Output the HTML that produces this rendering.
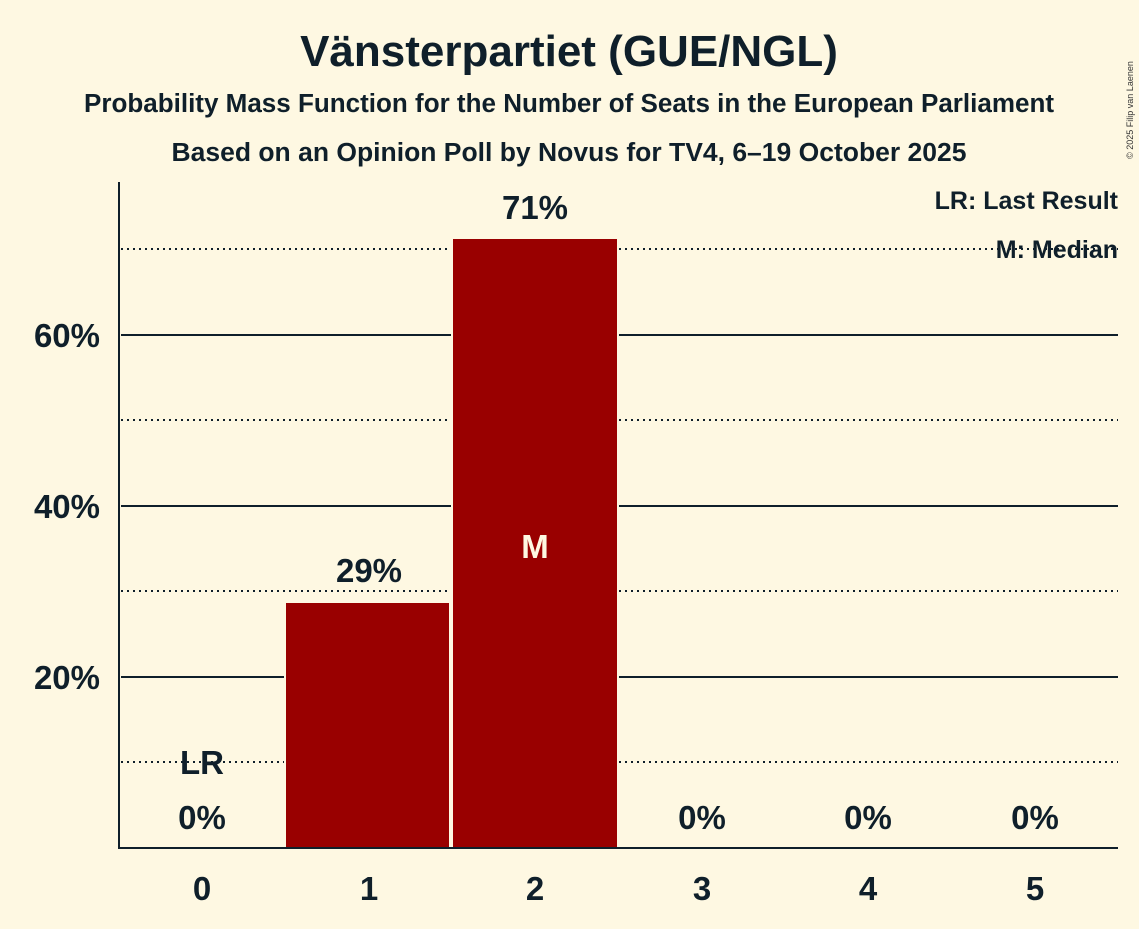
<!DOCTYPE html>
<html><head><style>body{margin:0;background:#fef8e2}</style></head><body>
<svg width="1139" height="924" xmlns="http://www.w3.org/2000/svg" font-family="Liberation Sans, sans-serif" font-weight="bold">
<rect width="1139" height="924" fill="#fef8e2"/>
<text x="569" y="66" font-size="44" text-anchor="middle" fill="#0f1f2a">Vänsterpartiet (GUE/NGL)</text>
<text x="569" y="112" font-size="25.5" text-anchor="middle" fill="#0f1f2a" textLength="970" lengthAdjust="spacingAndGlyphs">Probability Mass Function for the Number of Seats in the European Parliament</text>
<text x="569" y="161" font-size="25.5" text-anchor="middle" fill="#0f1f2a" textLength="795" lengthAdjust="spacingAndGlyphs">Based on an Opinion Poll by Novus for TV4, 6–19 October 2025</text>
<text x="1133" y="110" font-size="9" font-weight="normal" fill="#333" transform="rotate(-90 1133 110)" text-anchor="middle">© 2025 Filip van Laenen</text>
<g stroke="#0f1f2a" stroke-width="2" stroke-dasharray="2 4">
<line x1="121" x2="1118" y1="762" y2="762"/><line x1="121" x2="1118" y1="591" y2="591"/>
<line x1="121" x2="1118" y1="420" y2="420"/><line x1="121" x2="1118" y1="249" y2="249"/>
</g>
<g stroke="#0f1f2a" stroke-width="2">
<line x1="121" x2="1118" y1="677" y2="677"/><line x1="121" x2="1118" y1="506" y2="506"/><line x1="121" x2="1118" y1="335" y2="335"/>
</g>
<rect x="284" y="601" width="167" height="248" fill="#fef8e2"/>
<rect x="451" y="237" width="168" height="612" fill="#fef8e2"/>
<rect x="286" y="603" width="163" height="245" fill="#990000"/>
<rect x="453" y="239" width="164" height="609" fill="#990000"/>
<line x1="119" x2="119" y1="182" y2="849" stroke="#0f1f2a" stroke-width="2"/>
<line x1="118" x2="1118" y1="848" y2="848" stroke="#0f1f2a" stroke-width="2"/>
<g font-size="33" fill="#0f1f2a" text-anchor="end">
<text x="100" y="689">20%</text><text x="100" y="518">40%</text><text x="100" y="347">60%</text>
</g>
<g font-size="33" fill="#0f1f2a" text-anchor="middle">
<text x="202" y="900">0</text><text x="369" y="900">1</text><text x="535" y="900">2</text>
<text x="702" y="900">3</text><text x="868" y="900">4</text><text x="1035" y="900">5</text>
<text x="202" y="829">0%</text><text x="702" y="829">0%</text><text x="868" y="829">0%</text><text x="1035" y="829">0%</text>
<text x="369" y="582">29%</text><text x="535" y="219">71%</text>
<text x="202" y="774">LR</text>
<text x="535" y="558" fill="#fef8e2">M</text>
</g>
<g font-size="25" fill="#0f1f2a" text-anchor="end">
<text x="1118" y="209">LR: Last Result</text><text x="1118" y="258">M: Median</text>
</g>
</svg>
</body></html>
